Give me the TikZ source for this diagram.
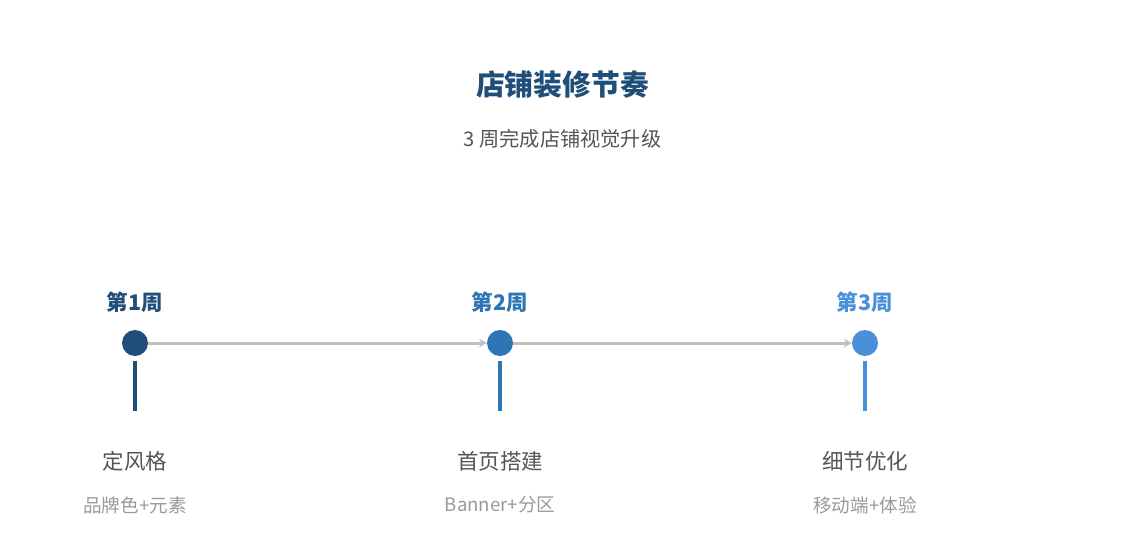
\documentclass[tikz,border=0pt]{standalone}
\usepackage{fontspec}
\setmainfont{Noto Sans CJK SC}
\usetikzlibrary{arrows.meta}
\definecolor{cA}{HTML}{1F4E79}
\definecolor{cB}{HTML}{2E75B6}
\definecolor{cC}{HTML}{4A90D9}
\definecolor{lineg}{HTML}{C0C0C0}
\definecolor{txtd}{HTML}{555555}
\definecolor{txtl}{HTML}{999999}
\begin{document}
\begin{tikzpicture}[x=1pt,y=-1pt,
  dot/.style={circle,fill=#1,minimum size=26pt,inner sep=0pt},
  wk/.style={text=#1,font=\fontsize{21.5}{25}\selectfont\bfseries,inner sep=0pt},
  stem/.style={draw=#1,line width=3.5pt},
  ttl/.style={text=txtd,font=\fontsize{21.5}{25}\selectfont,inner sep=0pt},
  sub/.style={text=txtl,font=\fontsize{18.6}{22}\selectfont,inner sep=0pt},
  conn/.style={draw=lineg,line width=3pt,-{Stealth[length=8pt,width=9pt,inset=3pt]}}]
\useasboundingbox (0,0) rectangle (1125,555);
\node[text=cA,font=\fontsize{28.8}{34}\selectfont\bfseries,inner sep=0pt] (title) at (562.5,85) {店铺装修节奏};
\node[text=txtd,font=\fontsize{20.2}{24}\selectfont,inner sep=0pt] (subtitle) at (562.5,139) {3 周完成店铺视觉升级};
% week labels
\node[wk=cA] (w1) at (135,302) {第1周};
\node[wk=cB] (w2) at (500,302) {第2周};
\node[wk=cC] (w3) at (865,302) {第3周};
% dots
\node[dot=cA] (d1) at (135,343) {};
\node[dot=cB] (d2) at (500,343) {};
\node[dot=cC] (d3) at (865,343) {};
% connectors
\draw[conn] (d1) -- (d2);
\draw[conn] (d2) -- (d3);
% stems
\coordinate (s1a) at (135,361); \coordinate (s1b) at (135,411);
\coordinate (s2a) at (500,361); \coordinate (s2b) at (500,411);
\coordinate (s3a) at (865,361); \coordinate (s3b) at (865,411);
\draw[stem=cA] (s1a) -- (s1b);
\draw[stem=cB] (s2a) -- (s2b);
\draw[stem=cC] (s3a) -- (s3b);
% labels
\node[ttl] (t1) at (135,461) {定风格};
\node[ttl] (t2) at (500,461) {首页搭建};
\node[ttl] (t3) at (865,461) {细节优化};
\node[sub] (u1) at (135,505) {品牌色+元素};
\node[sub] (u2) at (500,505) {Banner+分区};
\node[sub] (u3) at (865,505) {移动端+体验};
\end{tikzpicture}
\end{document}
